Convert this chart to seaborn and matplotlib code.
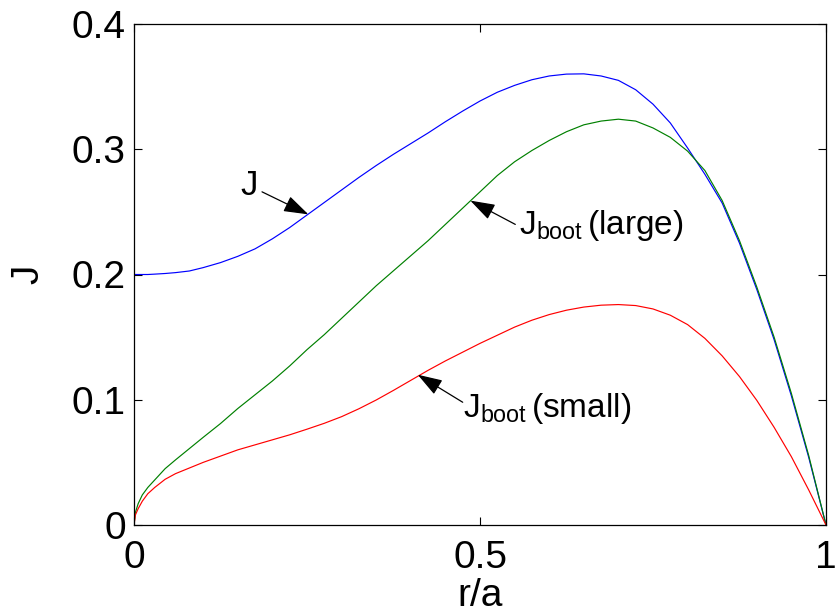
import matplotlib
matplotlib.use("Agg")
import matplotlib.pyplot as plt
import seaborn as sns
import pandas as pd

# ---- data ----
r = [0, 0.002, 0.006, 0.012, 0.02, 0.03, 0.045, 0.06, 0.08, 0.1, 0.125, 0.15,
     0.175, 0.2, 0.225, 0.25, 0.275, 0.3, 0.325, 0.35, 0.375, 0.4, 0.425,
     0.45, 0.475, 0.5, 0.525, 0.55, 0.575, 0.6, 0.625, 0.65, 0.675, 0.7,
     0.725, 0.75, 0.775, 0.8, 0.825, 0.85, 0.875, 0.9, 0.925, 0.95, 0.975,
     1.0]
J_total = [0.2000, 0.2000, 0.2000, 0.2000, 0.2000, 0.2003, 0.2008, 0.2015,
           0.2028, 0.2055, 0.2095, 0.2145, 0.2205, 0.2285, 0.2375, 0.2475,
           0.2575, 0.2675, 0.2775, 0.2870, 0.2960, 0.3045, 0.3130, 0.3220,
           0.3305, 0.3385, 0.3455, 0.3510, 0.3555, 0.3585, 0.3600, 0.3602,
           0.3585, 0.3550, 0.3475, 0.3360, 0.3210, 0.3010, 0.2800, 0.2570,
           0.2250, 0.1880, 0.1480, 0.1030, 0.0540, 0.0]
J_boot_large = [0.0, 0.010, 0.017, 0.024, 0.030, 0.036, 0.045, 0.052, 0.061,
                0.070, 0.081, 0.093, 0.104, 0.115, 0.127, 0.140, 0.152, 0.165,
                0.178, 0.191, 0.203, 0.215, 0.227, 0.240, 0.253, 0.266, 0.279,
                0.290, 0.299, 0.307, 0.314, 0.3195, 0.3225, 0.3240, 0.3225,
                0.3170, 0.3095, 0.2985, 0.2830, 0.2590, 0.2270, 0.1900,
                0.1500, 0.1050, 0.0555, 0.0]
J_boot_small = [0.0, 0.008, 0.013, 0.019, 0.025, 0.030, 0.0365, 0.041,
                0.0455, 0.050, 0.055, 0.060, 0.064, 0.068, 0.072, 0.0765,
                0.0812, 0.0865, 0.0928, 0.0998, 0.1075, 0.1155, 0.1235,
                0.1310, 0.1380, 0.1450, 0.1515, 0.1580, 0.1635, 0.1680,
                0.1715, 0.1740, 0.1755, 0.1760, 0.1752, 0.1725, 0.1675,
                0.1600, 0.1490, 0.1350, 0.1185, 0.0995, 0.0780, 0.0545,
                0.0280, 0.0]
series_names = ["J", "J_boot (large)", "J_boot (small)"]
series_colors = ["#0000ff", "#008000", "#ff0000"]
x_ticks = [0, 0.5, 1]
x_tick_labels = ["0", "0.5", "1"]
y_ticks = [0, 0.1, 0.2, 0.3, 0.4]
y_tick_labels = ["0", "0.1", "0.2", "0.3", "0.4"]

# annotation texts and where they sit / point
ann_texts = ["J", r"J$_{\mathrm{boot}}\,$(large)", r"J$_{\mathrm{boot}}\,$(small)"]
ann_text_xy = [(0.166, 0.271), (0.556, 0.232), (0.475, 0.086)]
ann_tip_xy = [(0.252, 0.248), (0.486, 0.259), (0.410, 0.120)]
ann_tail_xy = [(0.185, 0.266), (0.551, 0.240), (0.475, 0.098)]

df = pd.concat([
    pd.DataFrame({"r": r, "J": J_total, "series": series_names[0]}),
    pd.DataFrame({"r": r, "J": J_boot_large, "series": series_names[1]}),
    pd.DataFrame({"r": r, "J": J_boot_small, "series": series_names[2]}),
])

sns.set_style("ticks")
plt.rcParams["font.family"] = ["Liberation Sans", "DejaVu Sans"]
plt.rcParams["mathtext.fontset"] = "custom"
plt.rcParams["mathtext.rm"] = "Liberation Sans"
plt.rcParams["mathtext.it"] = "Liberation Sans"
plt.rcParams["text.color"] = "black"
plt.rcParams["axes.labelcolor"] = "black"
plt.rcParams["xtick.color"] = "black"
plt.rcParams["ytick.color"] = "black"

fig = plt.figure(figsize=(8.38, 6.15), dpi=100)
ax = fig.add_axes([134 / 838, 90 / 615, 692 / 838, 501 / 615])

sns.lineplot(data=df, x="r", y="J", hue="series", hue_order=series_names,
             palette=series_colors, linewidth=0.85, legend=False, ax=ax,
             estimator=None, sort=False)

ax.set_xlim(0, 1)
ax.set_ylim(0, 0.4)
ax.set_xticks(x_ticks)
ax.set_xticklabels(x_tick_labels)
ax.set_yticks(y_ticks)
ax.set_yticklabels(y_tick_labels)
ax.tick_params(axis="both", direction="in", length=6, width=0.8,
               labelsize=28, top=True, right=True, colors="black")
ax.tick_params(axis="y", pad=6)
ax.tick_params(axis="x", pad=11)
for s in ax.spines.values():
    s.set_visible(True)
    s.set_color("black")
    s.set_linewidth(0.9)

ax.set_xlabel("r/a", fontsize=28, labelpad=1, color="black")
ax.set_ylabel("J", fontsize=28, labelpad=18, color="black")

arrow = dict(arrowstyle="-|>,head_length=0.9,head_width=0.3", color="black",
             lw=0.9, shrinkA=0, shrinkB=0, mutation_scale=17)

for i, (txt, txy, tip, tail) in enumerate(zip(ann_texts, ann_text_xy,
                                              ann_tip_xy, ann_tail_xy)):
    ax.annotate("", xy=tip, xytext=tail, arrowprops=arrow)
    if i == 0:
        ax.text(txy[0], txy[1], txt, fontsize=25, ha="center", va="center",
                color="black")
    else:
        ax.text(txy[0], txy[1], txt, fontsize=24, ha="left", va="baseline",
                color="black")

fig.savefig("out.png", dpi=100, facecolor="white")
